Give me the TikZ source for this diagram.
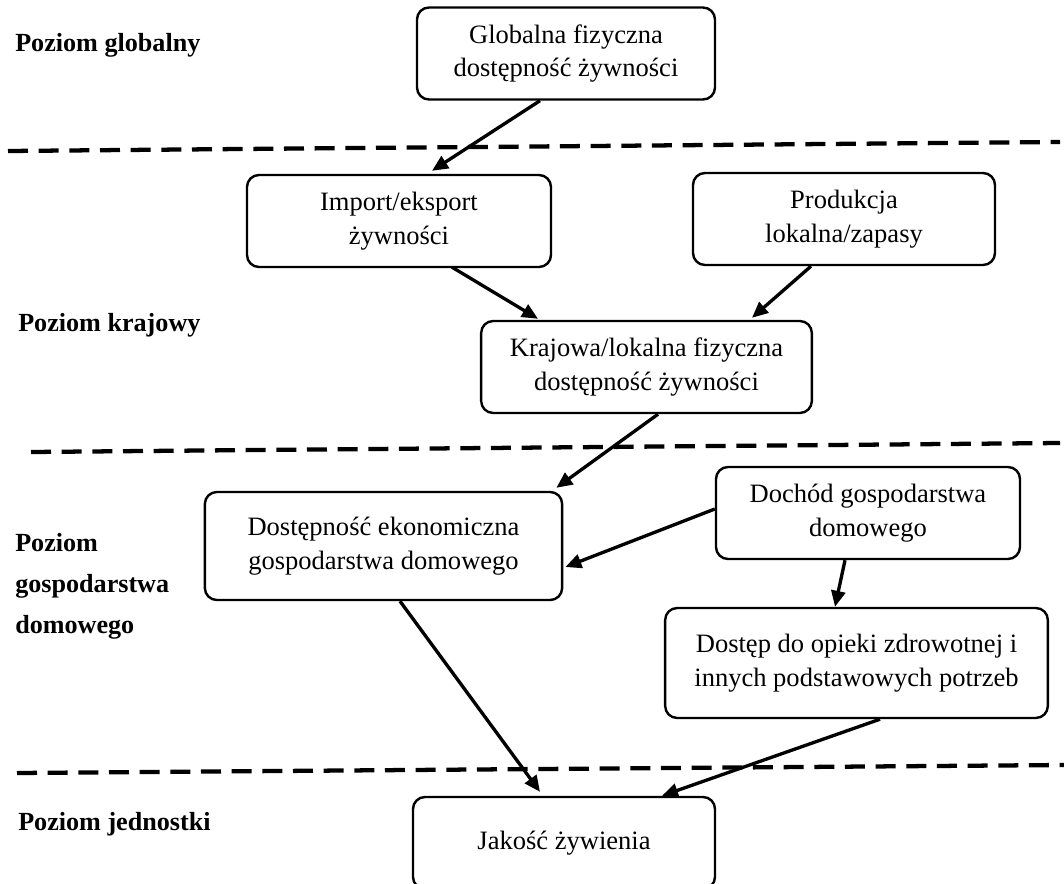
\documentclass[tikz,border=0pt]{standalone}
\usepackage{fontspec}
\setmainfont{Liberation Serif}
\usetikzlibrary{arrows.meta,calc}
\begin{document}
\begin{tikzpicture}[x=0.75pt,y=-0.75pt,
  box/.style={draw, line width=1.8pt, rounded corners=9pt, align=center,
    minimum width=#1, minimum height=69pt, inner sep=0pt,
    font=\fontsize{19.9}{25}\selectfont},
  level/.style={anchor=base west, inner sep=0pt, align=left,
    font=\fontsize{19.6}{30.75}\selectfont\bfseries},
  conn/.style={line width=2.5pt, -{Triangle[length=12pt,width=10.5pt]}},
  divider/.style={line width=3.2pt, dash pattern=on 15pt off 8pt}]
\useasboundingbox (0,0) rectangle (1064,884);

% dividers
\draw[divider] (8,151) -- (1060,142);
\draw[divider] (31,452) -- (1060,443);
\draw[divider] (17,773) -- (1064,765);

% level labels
\node[level] (l1) at (15,52) {Poziom globalny};
\node[level] (l2) at (18,332) {Poziom krajowy};
\node[level] (l3) at (15,633) {Poziom\\gospodarstwa\\domowego};
\node[level] (l4) at (18,830) {Poziom jednostki};

% boxes
\node[box=223.5pt] (glob) at (566,53.5) {Globalna fizyczna\\dostępność żywności};
\node[box=228pt] (imp) at (399,221) {Import/eksport\\żywności};
\node[box=226.5pt] (prod) at (844,219) {Produkcja\\lokalna/zapasy};
\node[box=248pt] (kraj) at (646.5,367) {Krajowa/lokalna fizyczna\\dostępność żywności};
\node[box=268pt, minimum height=81pt] (dost) at (383.5,546) {Dostępność ekonomiczna\\gospodarstwa domowego};
\node[box=228pt] (doch) at (868,513) {Dochód gospodarstwa\\domowego};
\node[box=287pt, minimum height=82.5pt] (dostep) at (856.5,663) {Dostęp do opieki zdrowotnej i\\innych podstawowych potrzeb};
\node[box=226.5pt] (jak) at (564,843) {Jakość żywienia};

% connectors
\draw[conn] ($(glob.south)+(-26,0)$) -- ($(imp.north)+(33,-3)$);
\draw[conn] ($(imp.south)+(53,-1)$) -- ($(kraj.north)+(-108.5,-1)$);
\draw[conn] ($(prod.south)+(-33,0)$) -- ($(kraj.north)+(105.5,-2)$);
\draw[conn] ($(kraj.south)+(11.5,0)$) -- ($(dost.north east)+(-7,-3)$);
\draw[conn] ($(doch.west)+(0,-4)$) -- ($(dost.east)+(2,21)$);
\draw[conn] ($(doch.south)+(-23,0)$) -- ($(dostep.north)+(-21.5,0)$);
\draw[conn] ($(dost.south)+(16.5,0)$) -- ($(jak.north)+(-24,-4)$);
\draw[conn] ($(dostep.south)+(23.5,0)$) -- ($(jak.north)+(98,0)$);
\end{tikzpicture}
\end{document}
